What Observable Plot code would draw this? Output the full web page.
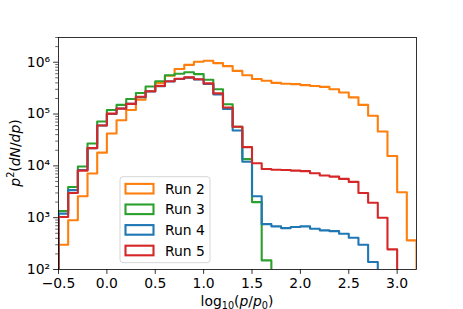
<!DOCTYPE html>
<html><head><meta charset="utf-8">
<script src="https://cdn.jsdelivr.net/npm/d3@7"></script>
<script src="https://cdn.jsdelivr.net/npm/@observablehq/plot@0.6"></script>
<style>body{margin:0;background:#fff;}</style>
</head><body><div id="chart"></div>
<script>
// bin edges of log10(p/p0)
const binEdges = [-0.5,-0.4,-0.3,-0.2,-0.1,0.0,0.1,0.2,0.3,0.4,0.5,0.6,0.7,0.8,0.9,1.0,1.1,1.2,1.3,1.4,1.5,1.6,1.7,1.8,1.9,2.0,2.1,2.2,2.3,2.4,2.5,2.6,2.7,2.8,2.9,3.0,3.1,3.2];
const run2 = [300,890,2600,7100,18000,42000,76000,120000,190000,275000,400000,550000,740000,890000,1020000,1070000,960000,840000,680000,560000,475000,440000,400000,385000,378000,362000,348000,335000,300000,260000,210000,150000,93000,46000,15500,3100,365];
const run3 = [1350,3900,9700,27000,72000,120000,150000,195000,255000,340000,430000,560000,600000,640000,590000,460000,300000,155000,57000,13500,2000,150,0,0,0,0,0,0,0,0,0,0,0,0,0,0,0];
const run4 = [1200,3400,8300,22000,60000,100000,128000,157000,212000,272000,345000,425000,475000,505000,465000,380000,240000,125000,48000,12000,2600,750,680,630,660,680,610,570,550,490,410,300,140,0,0,0,0];
const run5 = [1030,3000,8100,22000,60000,102000,127000,157000,215000,275000,350000,430000,480000,510000,470000,390000,250000,134000,57000,23000,11200,8700,8400,8300,8100,7900,7200,6500,6200,5600,4900,3000,1940,1000,245,0,0];
const seriesNames = ["Run 2","Run 3","Run 4","Run 5"];
const seriesColors = ["#ff7f0e","#2ca02c","#1f77b4","#d62728"];
const seriesValues = [run2, run3, run4, run5];
const xTicks = [-0.5,0.0,0.5,1.0,1.5,2.0,2.5,3.0];
const yMajor = [1e2,1e3,1e4,1e5,1e6];
const yMinor = [2e2,3e2,4e2,5e2,6e2,7e2,8e2,9e2,2e3,3e3,4e3,5e3,6e3,7e3,8e3,9e3,2e4,3e4,4e4,5e4,6e4,7e4,8e4,9e4,2e5,3e5,4e5,5e5,6e5,7e5,8e5,9e5,2e6,3e6];

const FLOOR = 1;
function stepPoints(values, name) {
  const pts = [{x: binEdges[0], y: FLOOR, name}];
  values.forEach((v, i) => pts.push({x: binEdges[i], y: v > 0 ? v : FLOOR, name}));
  pts.push({x: binEdges[binEdges.length - 1], y: FLOOR, name});
  return pts;
}
const sup = {"0":"⁰","1":"¹","2":"²","3":"³","4":"⁴","5":"⁵","6":"⁶","7":"⁷","8":"⁸","9":"⁹"};

const chart = Plot.plot({
  width: 463, height: 309,
  marginLeft: 58, marginRight: 47, marginTop: 37, marginBottom: 40,
  style: {fontFamily: "DejaVu Sans", fontSize: "13.9px", background: "white", color: "black"},
  x: {domain: [-0.5, 3.2]},
  y: {type: "log", domain: [100, 3e6]},
  marks: [
    ...seriesValues.map((vals, i) => Plot.line(stepPoints(vals, seriesNames[i]), {
      x: "x", y: "y", curve: "step-after", stroke: seriesColors[i], strokeWidth: 2.1, clip: true
    })),
    Plot.frame({stroke: "black", strokeWidth: 0.8}),
    Plot.axisX(xTicks, {tickSize: 4.9, tickPadding: 3.5, strokeWidth: 0.8, tickFormat: d3.format(".1f"), label: null}),
    Plot.axisY(yMajor, {tickSize: 4.9, tickPadding: 3.5, strokeWidth: 0.8, label: null,
      tickFormat: d => "10" + String(Math.round(Math.log10(d))).split("").map(c => sup[c]).join("")}),
    Plot.axisY(yMinor, {tickSize: 2.8, strokeWidth: 0.6, label: null, tickFormat: () => ""})
  ]
});
document.getElementById("chart").appendChild(chart);

const svg = d3.select(chart);
// x label: log10(p/p0)
const xl = svg.append("text").attr("x", 237).attr("y", 305.5).attr("text-anchor", "middle")
  .attr("font-family", "DejaVu Sans").attr("font-size", 13.9).attr("fill", "black");
xl.append("tspan").text("log");
xl.append("tspan").attr("font-size", 9.7).attr("dy", 3).text("10");
xl.append("tspan").attr("dy", -3).text("(");
xl.append("tspan").attr("font-style", "italic").text("p");
xl.append("tspan").text("/");
xl.append("tspan").attr("font-style", "italic").text("p");
xl.append("tspan").attr("font-size", 9.7).attr("dy", 3).text("0");
xl.append("tspan").attr("dy", -3).text(")");

// y label: p^2(dN/dp)
const yl = svg.append("text").attr("transform", "translate(19.5,153) rotate(-90)").attr("text-anchor", "middle")
  .attr("font-family", "DejaVu Sans").attr("font-size", 13.9).attr("fill", "black");
yl.append("tspan").attr("font-style", "italic").text("p");
yl.append("tspan").attr("font-size", 9.7).attr("dy", -5.5).text("2");
yl.append("tspan").attr("dy", 5.5).text("(");
yl.append("tspan").attr("font-style", "italic").text("dN");
yl.append("tspan").text("/");
yl.append("tspan").attr("font-style", "italic").text("dp");
yl.append("tspan").text(")");

// legend
const lg = svg.append("g").attr("text-anchor", "start");
lg.append("rect").attr("x", 120).attr("y", 176.7).attr("width", 90).attr("height", 86).attr("rx", 3)
  .attr("fill", "white").attr("fill-opacity", 0.8).attr("stroke", "#cccccc").attr("stroke-width", 0.8);
seriesNames.forEach((name, i) => {
  const cy = 188.7 + i * 20.6;
  lg.append("rect").attr("x", 125.5).attr("y", cy - 4.8).attr("width", 28).attr("height", 9.6)
    .attr("fill", "none").attr("stroke", seriesColors[i]).attr("stroke-width", 2.1);
  lg.append("text").attr("x", 165).attr("y", cy + 5).attr("text-anchor", "start").attr("font-family", "DejaVu Sans")
    .attr("font-size", 13.9).attr("fill", "black").text(name);
});
</script>
</body></html>
